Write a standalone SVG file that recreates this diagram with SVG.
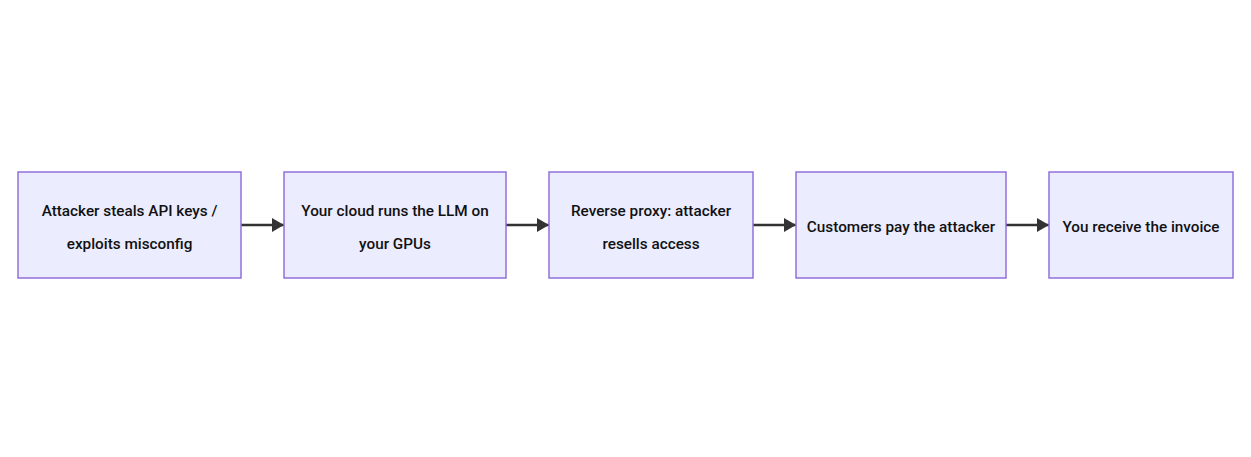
<svg xmlns="http://www.w3.org/2000/svg" width="1251" height="457" viewBox="0 0 1251 457">
<defs>
<style>
.node rect{fill:#ECECFF;stroke:#9370DB;stroke-width:1.5}
.node text{font-family:Roboto,"Liberation Sans",sans-serif;font-weight:500;font-size:15.3px;fill:#111;text-anchor:middle}
.edge{stroke:#333;stroke-width:2.5;fill:none}
</style>
<marker id="arr" viewBox="0 0 12 14" refX="12" refY="7" markerWidth="12" markerHeight="14" markerUnits="userSpaceOnUse" orient="auto">
<path d="M0,0 L12,7 L0,14 z" fill="#333"/>
</marker>
</defs>
<rect width="1251" height="457" fill="#FFFFFF"/>
<g id="connectors">
<path class="edge" d="M241,225 L284,225" marker-end="url(#arr)"/>
<path class="edge" d="M506,225 L549,225" marker-end="url(#arr)"/>
<path class="edge" d="M753,225 L796,225" marker-end="url(#arr)"/>
<path class="edge" d="M1006,225 L1049,225" marker-end="url(#arr)"/>
</g>
<g id="n1" class="node"><rect x="18" y="172" width="223" height="106"/><text x="129.5" y="216">Attacker steals API keys /</text><text x="129.5" y="249">exploits misconfig</text></g>
<g id="n2" class="node"><rect x="284" y="172" width="222" height="106"/><text x="395" y="216">Your cloud runs the LLM on</text><text x="395" y="249">your GPUs</text></g>
<g id="n3" class="node"><rect x="549" y="172" width="204" height="106"/><text x="651" y="216">Reverse proxy: attacker</text><text x="651" y="249">resells access</text></g>
<g id="n4" class="node"><rect x="796" y="172" width="210" height="106"/><text x="901" y="232">Customers pay the attacker</text></g>
<g id="n5" class="node"><rect x="1049" y="172" width="184" height="106"/><text x="1141" y="232">You receive the invoice</text></g>
</svg>
